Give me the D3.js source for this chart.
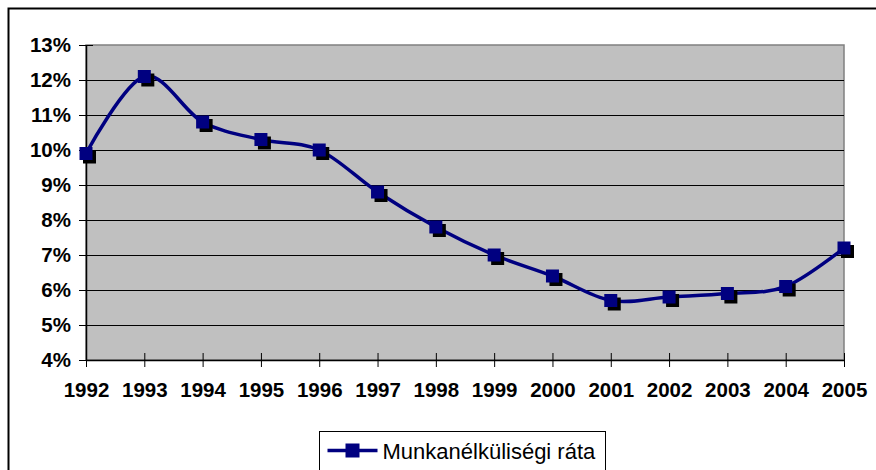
<!DOCTYPE html>
<html>
<head>
<meta charset="utf-8">
<script src="https://cdn.jsdelivr.net/npm/d3@7"></script>
<style>
  body { margin: 0; background: #fff; }
  svg { display: block; }
  text { font-family: Arial, "Liberation Sans", sans-serif; }
</style>
</head>
<body>
<svg id="chart" width="876" height="470"></svg>
<script>
// munkanélküliségi ráta, 1992-2005
var years = [1992, 1993, 1994, 1995, 1996, 1997, 1998, 1999, 2000, 2001, 2002, 2003, 2004, 2005];
var rates = [9.9, 12.1, 10.8, 10.3, 10.0, 8.8, 7.8, 7.0, 6.4, 5.7, 5.8, 5.9, 6.1, 7.2];
var yTicks = [4, 5, 6, 7, 8, 9, 10, 11, 12, 13];
var seriesName = "Munkanélküliségi ráta";

var data = years.map(function(y, i) { return {year: y, value: rates[i]}; });

var svg = d3.select("#chart");

// outer chart frame (runs off the right and bottom edge)
svg.append("rect")
  .attr("x", 8.5).attr("y", 8.5)
  .attr("width", 880).attr("height", 480)
  .attr("fill", "#fff")
  .attr("stroke", "#000")
  .attr("stroke-width", 2);

var plotL = 86, plotR = 844, plotT = 45, plotB = 360;

var x = d3.scaleLinear().domain([1992, 2005]).range([plotL, plotR]);
var y = d3.scaleLinear().domain([4, 13]).range([plotB, plotT]);

// plot area
svg.append("rect")
  .attr("x", plotL).attr("y", plotT)
  .attr("width", plotR - plotL).attr("height", plotB - plotT)
  .attr("fill", "#c0c0c0")
  .attr("stroke", "#808080")
  .attr("stroke-width", 1.5);

// grid lines
svg.append("g")
  .selectAll("line")
  .data(yTicks.slice(1, -1))
  .join("line")
    .attr("x1", plotL).attr("x2", plotR)
    .attr("y1", function(d) { return Math.round(y(d)) + 0.5; })
    .attr("y2", function(d) { return Math.round(y(d)) + 0.5; })
    .attr("stroke", "#000")
    .attr("stroke-width", 1);

// y axis
var yAxis = svg.append("g")
  .attr("transform", "translate(" + plotL + ",0)")
  .call(d3.axisLeft(y).tickValues(yTicks).tickSizeInner(7).tickSizeOuter(0)
        .tickFormat(function(d) { return d + "%"; }));
yAxis.select(".domain").attr("stroke", "#000").attr("stroke-width", 1.5);
yAxis.selectAll(".tick line").attr("x2", 7).attr("x1", -7).attr("stroke", "#000");
yAxis.selectAll(".tick text")
  .attr("x", -15)
  .attr("font-size", "20.5px")
  .attr("font-weight", "bold")
  .attr("fill", "#000")
  .attr("font-family", "Arial, 'Liberation Sans', sans-serif");

// x axis
var xAxis = svg.append("g")
  .attr("transform", "translate(0," + plotB + ")")
  .call(d3.axisBottom(x).tickValues(years).tickSizeInner(7).tickSizeOuter(0)
        .tickFormat(d3.format("d")));
xAxis.select(".domain").attr("stroke", "#000").attr("stroke-width", 1.5);
xAxis.selectAll(".tick line").attr("y1", -7).attr("y2", 7).attr("stroke", "#000");
xAxis.selectAll(".tick text")
  .attr("y", 22)
  .attr("font-size", "20.5px")
  .attr("font-weight", "bold")
  .attr("fill", "#000")
  .attr("font-family", "Arial, 'Liberation Sans', sans-serif");

// smoothed line
var line = d3.line()
  .x(function(d) { return x(d.year); })
  .y(function(d) { return y(d.value); })
  .curve(d3.curveCatmullRom.alpha(0));

svg.append("path")
  .datum(data)
  .attr("d", line)
  .attr("fill", "none")
  .attr("stroke", "#000080")
  .attr("stroke-width", 3.5);

// markers with shadow
var ms = 13;
var mk = svg.append("g").selectAll("g").data(data).join("g")
  .attr("transform", function(d) { return "translate(" + x(d.year) + "," + y(d.value) + ")"; });
mk.append("rect")
  .attr("x", -ms / 2 + 3.5).attr("y", -ms / 2 + 3.5)
  .attr("width", ms).attr("height", ms)
  .attr("fill", "#000");
mk.append("rect")
  .attr("x", -ms / 2).attr("y", -ms / 2)
  .attr("width", ms).attr("height", ms)
  .attr("fill", "#000080");

// legend
var lg = svg.append("g").attr("transform", "translate(319.5,431.5)");
lg.append("rect")
  .attr("width", 286).attr("height", 60)
  .attr("fill", "#fff")
  .attr("stroke", "#000")
  .attr("stroke-width", 1);
lg.append("line")
  .attr("x1", 8).attr("x2", 58).attr("y1", 19).attr("y2", 19)
  .attr("stroke", "#000080").attr("stroke-width", 3.5);
lg.append("rect")
  .attr("x", 26).attr("y", 12).attr("width", 14).attr("height", 14)
  .attr("fill", "#000080");
lg.append("text")
  .attr("x", 63).attr("y", 27)
  .attr("font-size", "22px")
  .attr("fill", "#000")
  .text(seriesName);
</script>
</body>
</html>
